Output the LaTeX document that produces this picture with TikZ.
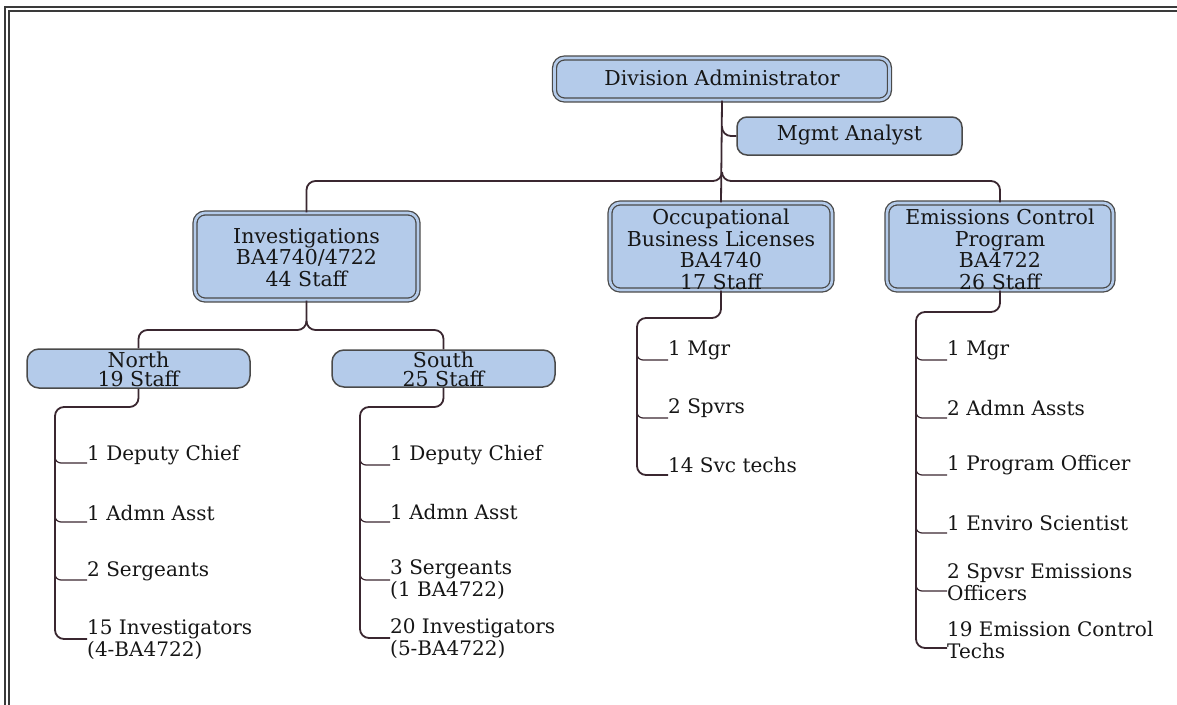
\documentclass[tikz,border=0pt]{standalone}
\usepackage{fontspec}
\setmainfont{DejaVu Serif}
\definecolor{boxfill}{HTML}{B4CBEA}
\definecolor{boxline}{HTML}{4A4A4A}
\definecolor{connc}{HTML}{3A2730}
\definecolor{txt}{HTML}{161616}
\definecolor{frame}{HTML}{3A3A3A}
\begin{document}
\begin{tikzpicture}[x=1pt,y=-1pt,
  dbox/.style={draw=boxline, line width=1.3pt, double=boxfill, double distance=2.6pt, fill=boxfill, rounded corners=10pt, inner sep=0pt},
  sbox/.style={draw=boxline, line width=1.5pt, fill=boxfill, rounded corners=12pt, inner sep=0pt},
  btext/.style={inner sep=0pt, align=center, text=txt, font=\fontsize{20.5}{21.5}\selectfont},
  stext/.style={inner sep=0pt, align=center, text=txt, font=\fontsize{20.5}{19.5}\selectfont},
  item/.style={anchor=west, inner sep=0pt, align=left, text=txt, font=\fontsize{20}{22}\selectfont},
  connl/.style={draw=connc, line width=1.8pt, rounded corners=9pt},
  stub/.style={draw=connc, line width=1.2pt, rounded corners=6pt}]
\useasboundingbox (0,0) rectangle (1177,704);
% frame
\draw[frame, line width=1.6pt] (5,7) rectangle (1195,725);
\draw[frame, line width=1.2pt] (9,11) rectangle (1191,721);

% boxes
\node[dbox, minimum width=335, minimum height=42] (da) at (722,79) {};
\node[btext] at ([yshift=1pt]da.center) {Division Administrator};
\node[sbox, minimum width=225, minimum height=38, rounded corners=10pt] (ma) at (849.5,136) {};
\node[btext] at ([yshift=1pt]ma.center) {Mgmt Analyst};
\node[dbox, minimum width=223, minimum height=87] (inv) at (306.5,256.5) {};
\node[btext] at ([yshift=-1pt]inv.center) {Investigations\\BA4740/4722\\44 Staff};
\node[dbox, minimum width=222, minimum height=87] (occ) at (721,246.5) {};
\node[btext] at ([yshift=-3pt]occ.center) {Occupational\\Business Licenses\\BA4740\\17 Staff};
\node[dbox, minimum width=226, minimum height=87] (emi) at (1000,246.5) {};
\node[btext] at ([yshift=-3pt]emi.center) {Emissions Control\\Program\\BA4722\\26 Staff};
\node[sbox, minimum width=223, minimum height=39] (nor) at (138.5,368.5) {};
\node[stext] at ([yshift=-1pt]nor.center) {North\\19 Staff};
\node[sbox, minimum width=223, minimum height=37] (sou) at (443.5,368.5) {};
\node[stext] at ([yshift=-1pt]sou.center) {South\\25 Staff};

% top connectors
\draw[connl] (da.south) -- (occ.north);
\draw[connl] (722,126) -- (722,136) -- (ma.west);
\draw[connl] (722,172) -- (722,181) -- (306.5,181) -- (inv.north);
\draw[connl] (722,172) -- (722,181) -- (1000,181) -- (emi.north);
\draw[connl] (inv.south) -- (306.5,330) -- (138.5,330) -- (nor.north);
\draw[connl] (306.5,322) -- (306.5,330) -- (443.5,330) -- (sou.north);

% North column
\node[item] (n1) at (87,455) {1 Deputy Chief};
\node[item] (n2) at (87,513) {1 Admn Asst};
\node[item] (n3) at (87,571) {2 Sergeants};
\node[item] (n4) at (87,640) {15 Investigators\\(4-BA4722)};
\draw[connl] (nor.south) -- (138.5,407) -- (55,407) -- (55,639) -- (n4.west |- 55,639);
\draw[stub] (55,453) -- (55,463) -- (n1.west |- 55,463);
\draw[stub] (55,512) -- (55,522) -- (n2.west |- 55,522);
\draw[stub] (55,570) -- (55,580) -- (n3.west |- 55,580);

% South column
\node[item] (s1) at (390,455) {1 Deputy Chief};
\node[item] (s2) at (390,512) {1 Admn Asst};
\node[item] (s3) at (390,580) {3 Sergeants\\(1 BA4722)};
\node[item] (s4) at (390,639) {20 Investigators\\(5-BA4722)};
\draw[connl] (sou.south) -- (443.5,407) -- (360,407) -- (360,638) -- (s4.west |- 360,638);
\draw[stub] (360,455) -- (360,465) -- (s1.west |- 360,465);
\draw[stub] (360,512) -- (360,522) -- (s2.west |- 360,522);
\draw[stub] (360,570) -- (360,580) -- (s3.west |- 360,580);

% Occupational column
\node[item] (o1) at (668,350) {1 Mgr};
\node[item] (o2) at (668,408) {2 Spvrs};
\node[item] (o3) at (668,465) {14 Svc techs};
\draw[connl] (occ.south) -- (721,318) -- (637,318) -- (637,475) -- (o3.west |- 637,475);
\draw[stub] (637,350) -- (637,360) -- (o1.west |- 637,360);
\draw[stub] (637,408) -- (637,418) -- (o2.west |- 637,418);

% Emissions column
\node[item] (e1) at (947,350) {1 Mgr};
\node[item] (e2) at (947,408) {2 Admn Assts};
\node[item] (e3) at (947,465) {1 Program Officer};
\node[item] (e4) at (947,523) {1 Enviro Scientist};
\node[item] (e5) at (947,582) {2 Spvsr Emissions\\Officers};
\node[item] (e6) at (947,640) {19 Emission Control\\Techs};
\draw[connl] (emi.south) -- (1000,312) -- (916,312) -- (916,648) -- (e6.west |- 916,648);
\draw[stub] (916,350) -- (916,360) -- (e1.west |- 916,360);
\draw[stub] (916,408) -- (916,418) -- (e2.west |- 916,418);
\draw[stub] (916,465) -- (916,475) -- (e3.west |- 916,475);
\draw[stub] (916,523) -- (916,533) -- (e4.west |- 916,533);
\draw[stub] (916,581) -- (916,591) -- (e5.west |- 916,591);
\end{tikzpicture}
\end{document}
